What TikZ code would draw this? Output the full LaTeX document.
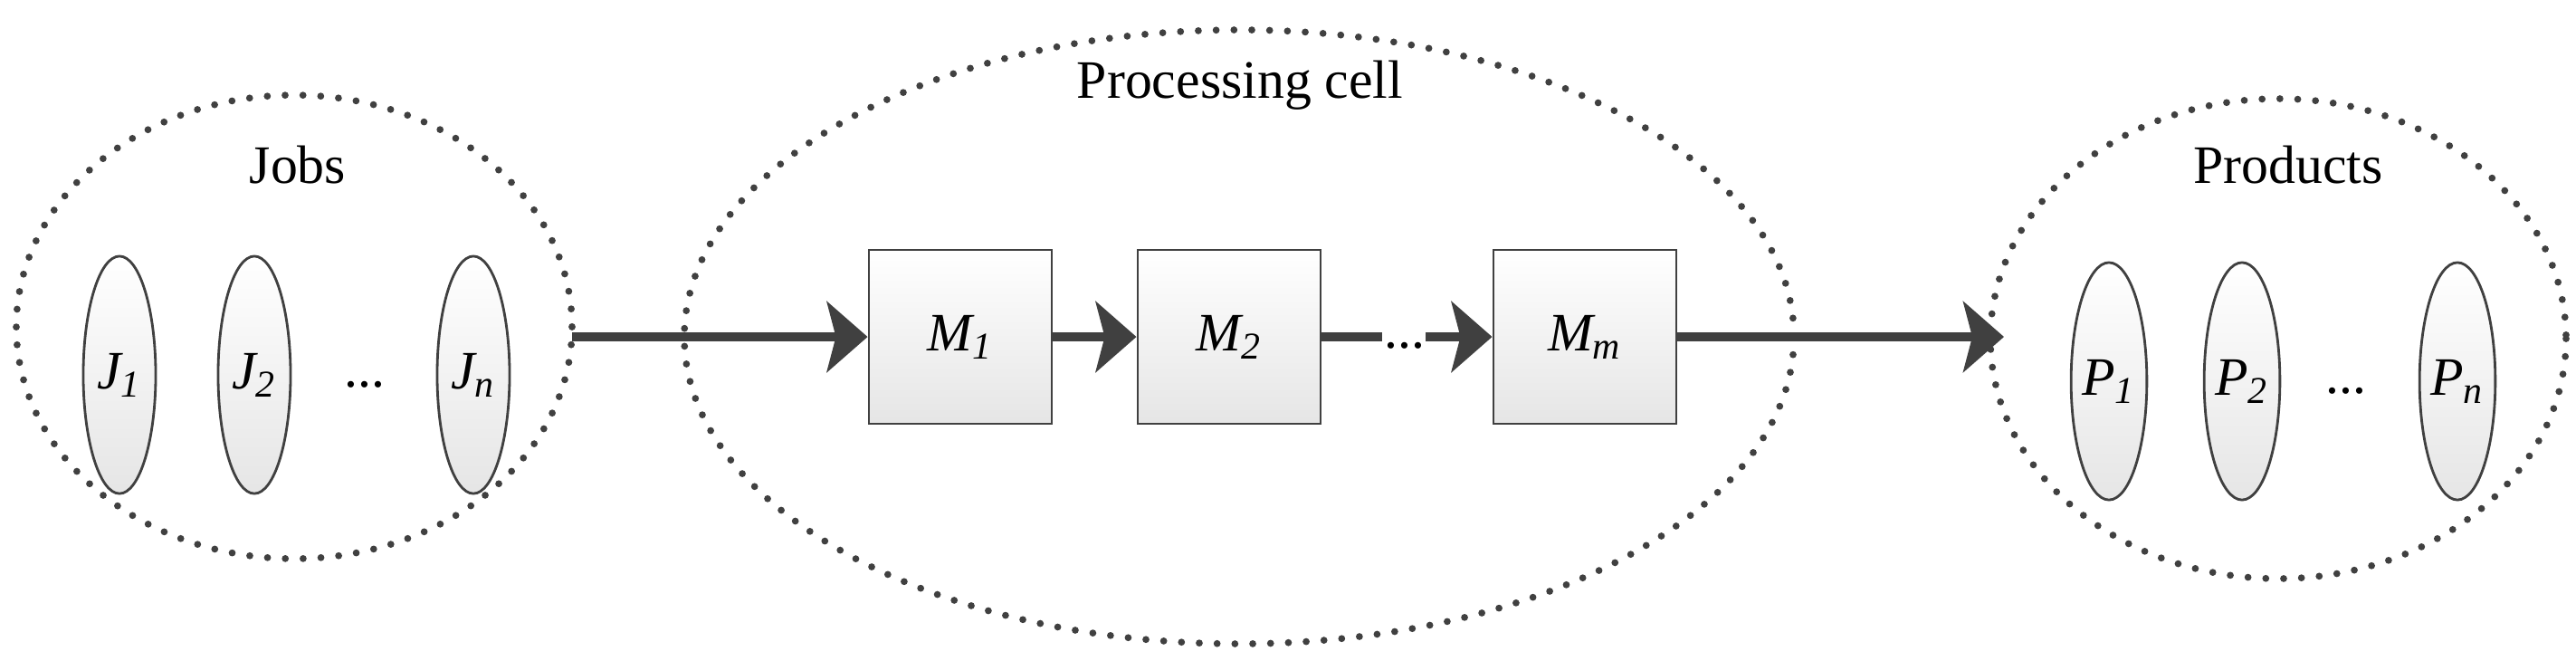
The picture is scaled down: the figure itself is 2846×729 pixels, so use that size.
\documentclass[tikz,border=0pt]{standalone}
\usepackage{fontspec}
\setmainfont{Liberation Serif}
\usetikzlibrary{arrows.meta,shapes.geometric}
\definecolor{dialinecolor}{rgb}{0.25, 0.25, 0.25}
\begin{document}
\begin{tikzpicture}[x=0.01cm,y=-0.01cm,
  group/.style={draw=dialinecolor,line width=2.2pt,line cap=round,dash pattern=on 0pt off 5.6pt},
  item/.style={ellipse,draw=dialinecolor,line width=0.8pt,top color=white,bottom color=black!10,minimum width=0.8cm,minimum height=2.62cm,inner sep=0pt,font=\fontsize{17}{20}\selectfont\itshape},
  machine/.style={rectangle,draw=dialinecolor,line width=0.8pt,top color=white,bottom color=black!10,minimum width=2.02cm,minimum height=1.92cm,font=\fontsize{17}{20}\selectfont\itshape},
  label/.style={font=\fontsize{17}{20}\selectfont},
  flow/.style={draw=dialinecolor,line width=2.6pt,-{Stealth[length=0.45cm,width=0.78cm,inset=0.1cm]}}]
\useasboundingbox (0,0) rectangle (2846,729);
% groups
\draw[group] (325,361) ellipse [x radius=307,y radius=256];
\draw[group] (1369,372) ellipse [x radius=613,y radius=339];
\draw[group] (2517,374) ellipse [x radius=318,y radius=265];
\node[label] (jobs) at (329,182) {Jobs};
\node[label] (cell) at (1370,94) {Processing cell};
\node[label] (prod) at (2528,182) {Products};
% jobs
\node[item] (j1) at (132,414) {J\textsubscript{1}};
\node[item] (j2) at (281,414) {J\textsubscript{2}};
\node[label] (jd) at (403,425) {...};
\node[item] (jn) at (523,414) {J\textsubscript{n}};
% machines
\node[machine] (m1) at (1061,372) {M\textsubscript{1}};
\node[machine] (m2) at (1358,372) {M\textsubscript{2}};
\node[label] (md) at (1552,382) {...};
\node[machine] (mm) at (1751,372) {M\textsubscript{m}};
% products
\node[item] (p1) at (2330,421) {P\textsubscript{1}};
\node[item] (p2) at (2477,421) {P\textsubscript{2}};
\node[label] (pd) at (2592,432) {...};
\node[item] (pn) at (2715,421) {P\textsubscript{n}};
\coordinate (jout) at (632,372);
\coordinate (pin) at (2214,372);
\coordinate (ma) at (1527,372);
\coordinate (mb) at (1575,372);
\draw[flow] (jout) -- (m1.west);
\draw[flow] (m1) -- (m2);
\draw[flow,-] (m2.east) -- (ma);
\draw[flow] (mb) -- (mm.west);
\draw[flow] (mm.east) -- (pin);
\end{tikzpicture}
\end{document}
